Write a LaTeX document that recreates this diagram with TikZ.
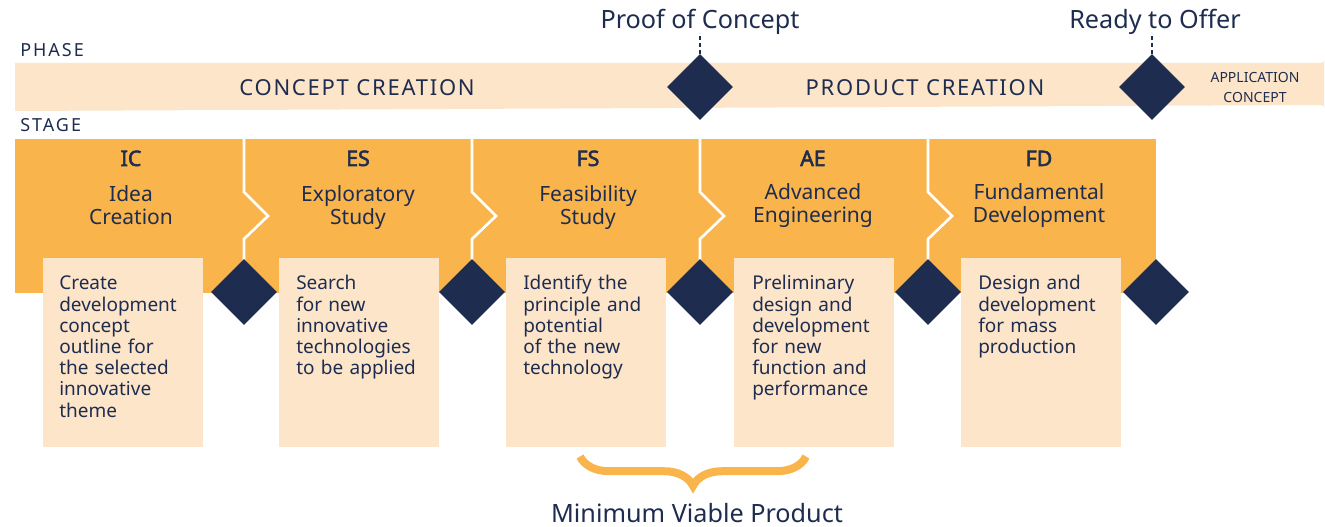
\documentclass[tikz,border=0pt]{standalone}
\usepackage{fontspec}
\setmainfont{Noto Sans}[AutoFakeBold=2.5]
\newfontfamily\spacedfont[LetterSpace=8]{Noto Sans}
\newfontfamily\rowfont[LetterSpace=11]{Noto Sans}
\usetikzlibrary{shapes.geometric,decorations.pathreplacing,calc}
\definecolor{navy}{HTML}{1E2D4F}
\definecolor{stageorange}{HTML}{F9B44C}
\definecolor{peach}{HTML}{FDE5CA}
\begin{document}
\begin{tikzpicture}[x=0.75pt,y=-0.75pt,
  every node/.style={text=navy,inner sep=0pt},
  gate/.style={diamond,fill=navy,minimum width=49.5pt,minimum height=49.5pt},
  descbox/.style={fill=peach,minimum width=120pt,minimum height=141.75pt,anchor=north west},
  desctext/.style={anchor=base west,align=left,text width=112pt,font=\fontsize{14.25pt}{15.9pt}\selectfont},
  stagetitle/.style={anchor=base,font=\fontsize{16pt}{17pt}\selectfont\bfseries},
  stagename/.style={anchor=base,align=center,text width=130pt,font=\fontsize{15.75pt}{17.25pt}\selectfont},
  milestone/.style={anchor=base,font=\fontsize{18.9pt}{22pt}\selectfont},
  phasetitle/.style={anchor=base,font=\fontsize{16.5pt}{18pt}\spacedfont},
  rowlabel/.style={anchor=base west,font=\fontsize{13.5pt}{16pt}\rowfont},
  sep/.style={white,line width=2pt},
  dashline/.style={navy,line width=1.1pt,dash pattern=on 3pt off 2.25pt},
  mvpbrace/.style={stageorange,line width=6pt,decorate,decoration={brace,mirror,amplitude=22pt}}
]
\useasboundingbox (0,0) rectangle (1325,527);
% phase band
\fill[peach] (15,63) -- (1321,63) arc[start angle=90,end angle=0,radius=3] -- (1324,108) arc[start angle=0,end angle=-90,radius=3] -- (15,111) -- cycle;
\node[rowlabel] (phaseL) at (20,57) {PHASE};
\node[rowlabel] (stageL) at (20,132) {STAGE};
\node[phasetitle] (ccT) at (357,96) {CONCEPT CREATION};
\node[phasetitle] (pcT) at (925,96) {PRODUCT CREATION};
\node[anchor=base,align=center,text width=80pt,font=\fontsize{10.5pt}{15pt}\selectfont] (acT) at (1255,83) {APPLICATION\\CONCEPT};
% milestones
\node[milestone] (pocL) at (700,29) {Proof of Concept};
\node[milestone] (rtoL) at (1155,29) {Ready to Offer};
\node[gate] (poc) at (700,87) {};
\node[gate] (rto) at (1152,87) {};
\draw[dashline] (poc.north) -- ($(poc.north)+(0,-21)$) coordinate (pocTop);
\draw[dashline] (rto.north) -- ($(rto.north)+(0,-21)$) coordinate (rtoTop);
% stage blocks
\fill[stageorange] (15,139) rectangle (1156,293);
\foreach \x in {244,472,700,928}{
  \draw[sep] (\x,137) -- (\x,192) -- (\x+24,216) -- (\x,239) -- (\x,262);
}
% description boxes
\node[descbox] (icB) at (43,258) {};
\node[descbox] (esB) at (279,258) {};
\node[descbox] (fsB) at (506,258) {};
\node[descbox] (aeB) at (734,258) {};
\node[descbox] (fdB) at (961,258) {};
% gates
\node[gate] (g1) at (244,292) {};
\node[gate] (g2) at (472,292) {};
\node[gate] (g3) at (700,292) {};
\node[gate] (g4) at (928,292) {};
\node[gate] (g5) at (1156,292) {};
% stage titles
\node[stagetitle] (icT) at (131,166) {IC};
\node[stagetitle] (esT) at (358,166) {ES};
\node[stagetitle] (fsT) at (588,166) {FS};
\node[stagetitle] (aeT) at (813,166) {AE};
\node[stagetitle] (fdT) at (1039,166) {FD};
\node[stagename] (icN) at (131,202) {Idea\\Creation};
\node[stagename] (esN) at (358,202) {Exploratory\\Study};
\node[stagename] (fsN) at (588,202) {Feasibility\\Study};
\node[stagename] (aeN) at (813,200) {Advanced\\Engineering};
\node[stagename] (fdN) at (1039,200) {Fundamental\\Development};
% descriptions
\node[desctext] (icD) at (59,290) {Create\\development\\concept\\outline for\\the selected\\innovative\\theme};
\node[desctext] (esD) at (296,290) {Search\\for new\\innovative\\technologies\\to be applied};
\node[desctext] (fsD) at (523,290) {Identify the\\principle and\\potential\\of the new\\technology};
\node[desctext] (aeD) at (752,290) {Preliminary\\design and\\development\\for new\\function and\\performance};
\node[desctext] (fdD) at (978,290) {Design and\\development\\for mass\\production};
% MVP brace
\coordinate (bl) at ($(fsB.south west)+(74,9)$);
\coordinate (br) at ($(aeB.south west)+(72,9)$);
\draw[mvpbrace] (bl) -- (br);
\node[milestone] (mvp) at (697,522) {Minimum Viable Product};
\end{tikzpicture}
\end{document}
